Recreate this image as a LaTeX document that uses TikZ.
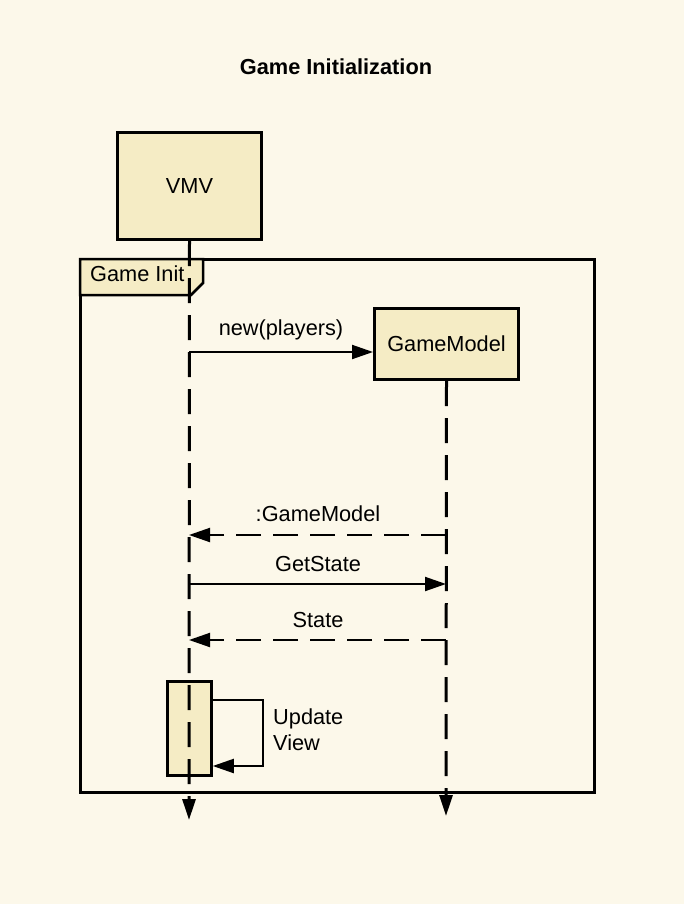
\documentclass[tikz,border=0pt]{standalone}
\usepackage{fontspec}
\setmainfont{Liberation Sans}
\usetikzlibrary{arrows.meta}
\definecolor{paper}{HTML}{FCF8EA}
\definecolor{boxfill}{HTML}{F5ECC5}

\begin{document}
\begin{tikzpicture}[x=1pt,y=-1pt,
  font=\fontsize{21.75}{26}\selectfont,
  obj/.style={draw,line width=3pt,fill=boxfill,inner sep=0pt},
  msg/.style={line width=2pt,-{Triangle[length=21pt,width=14pt]}},
  ret/.style={msg,dash pattern=on 25pt off 12pt},
  life/.style={line width=3pt,dash pattern=on 25pt off 12pt,-{Triangle[length=21pt,width=13pt]}}]
\fill[paper] (0,0) rectangle (684,904);
\useasboundingbox (0,0) rectangle (684,904);

\node[font=\fontsize{21.75}{26}\selectfont\bfseries] (title) at (336,67) {Game Initialization};

% frame and its tab
\draw[line width=3pt] (80,259) rectangle (594,792);
\filldraw[fill=boxfill,line width=2.5pt] (80,259) -- (203,259) -- (203,283) -- (191,295) -- (80,295) -- cycle;
\node[anchor=west,inner sep=0pt] (tab) at (90,274) {Game Init};

% objects
\node[obj,minimum width=144pt,minimum height=107pt] (vmv) at (189.5,186) {VMV};
\node[obj,minimum width=144pt,minimum height=71pt] (gm) at (446.5,344) {GameModel};
\node[obj,line width=2.5pt,minimum width=44pt,minimum height=94pt] (act) at (189.5,728.5) {};

% lifelines
\coordinate (vmvend) at (189,820);
\coordinate (gmend) at (446,816);
\draw[life] (vmv.south) -- (vmvend);
\draw[life] (gm.south) -- (gmend);

% messages
\coordinate (m1) at (189,352);
\draw[msg] (m1) -- (m1 -| gm.west);
\node (m1l) at (281,330) {new(players)};

\coordinate (m2) at (446,535);
\draw[ret] (m2) -- (m2 -| vmvend);
\node (m2l) at (318,514) {:GameModel};

\coordinate (m3) at (189,584);
\draw[msg] (m3) -- (m3 -| gmend);
\node (m3l) at (318,564) {GetState};

\coordinate (m4) at (446,640);
\draw[ret] (m4) -- (m4 -| vmvend);
\node (m4l) at (318,620) {State};

% self call
\coordinate (s1) at (263,700);
\coordinate (s2) at (263,766);
\draw[msg] (act.east |- s1) -- (s1) -- (s2) -- (act.east |- s2);
\node[anchor=west,align=left,inner sep=0pt] (sl) at (273,730) {Update\\View};

\end{tikzpicture}
\end{document}
